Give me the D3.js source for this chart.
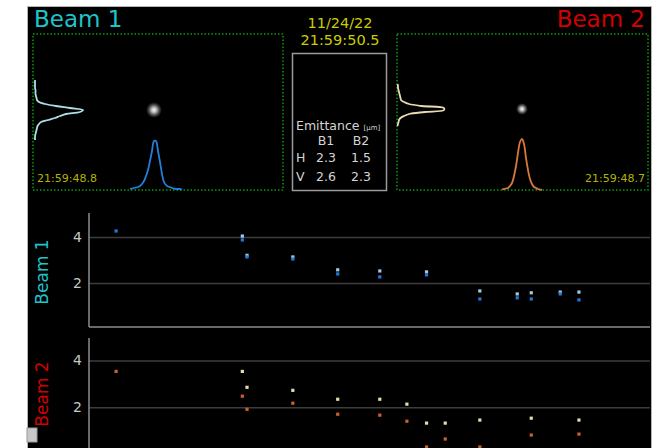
<!DOCTYPE html>
<html>
<head>
<meta charset="utf-8">
<script src="https://cdn.jsdelivr.net/npm/d3@7"></script>
<style>
  body { margin: 0; background: #fff; }
  text { font-family: "DejaVu Sans", sans-serif; }
</style>
</head>
<body>
<script>
var W = 656, H = 448;

// header texts
var beamNames = ['Beam 1', 'Beam 2'];
var dateText = '11/24/22';
var timeText = '21:59:50.5';
var camTimes = ['21:59:48.8', '21:59:48.7'];

// emittance table (um)
var emitCols = ['B1', 'B2'];
var emitRows = ['H', 'V'];
var emitVals = [[2.3, 1.5], [2.6, 2.3]];

// camera profiles, relative intensity (peak ~100)
var b1VProf = [2,2,2,2,2,3,3,3,4,5,6,10,22,44,72,98,92,64,52,42,28,14,10,7,6,5,4,3,2,2,2];
var b1HProf = [2,3,4,5,6,8,12,18,28,40,58,78,98,98,78,56,32,16,10,7,6,4,3,2,2,2,1];
var b2VProf = [1,2,2,3,4,5,6,7,8,14,24,50,94,94,56,24,14,7,4,3,2,1];
var b2HProf = [1,2,3,4,8,14,28,48,74,96,102,92,64,40,22,12,6,4,2,1,0];

// emittance history, minutes since 21:00
var b1Times = [2.9, 16.4, 16.9, 21.8, 26.6, 31.1, 36.1, 41.8, 45.8, 47.3, 50.4, 52.4];
var b1EmitH = [null, 4.04, 3.2, 3.13, 2.57, 2.52, 2.48, 1.65, 1.52, 1.57, 1.6, 1.6];
var b1EmitV = [4.26, 3.87, 3.13, 3.04, 2.39, 2.26, 2.35, 1.3, 1.35, 1.3, 1.52, 1.26];
var b2Times = [2.9, 16.4, 16.9, 21.8, 26.6, 31.1, 34.0, 36.1, 38.1, 41.8, 47.3, 52.4];
var b2EmitH = [null, 3.53, 2.85, 2.72, 2.34, 2.34, 2.13, 1.32, 1.32, 1.45, 1.53, 1.45];
var b2EmitV = [3.53, 2.47, 1.91, 2.17, 1.7, 1.66, 1.4, 0.3, 0.64, 0.3, 0.81, 0.85];
var yTicks = [2, 4];

var svg = d3.select('body').append('svg')
  .attr('width', W)
  .attr('height', H);

svg.append('rect')
  .attr('x', 27.5).attr('y', 6.5)
  .attr('width', 624).attr('height', 450)
  .attr('fill', '#000')
  .attr('stroke', '#b4b4b4');

var defs = svg.append('defs');
var grad = defs.append('radialGradient').attr('id', 'spot');
grad.append('stop').attr('offset', '0%').attr('stop-color', '#fff').attr('stop-opacity', 1);
grad.append('stop').attr('offset', '35%').attr('stop-color', '#ddd').attr('stop-opacity', 0.8);
grad.append('stop').attr('offset', '100%').attr('stop-color', '#888').attr('stop-opacity', 0);

// titles
svg.append('text').attr('x', 34).attr('y', 27)
  .attr('font-size', 23).attr('fill', '#1ec4c8').text(beamNames[0]);
svg.append('text').attr('x', 645).attr('y', 27).attr('text-anchor', 'end')
  .attr('font-size', 23).attr('fill', '#d20000').text(beamNames[1]);
svg.append('text').attr('x', 340).attr('y', 28).attr('text-anchor', 'middle')
  .attr('font-size', 14.5).attr('fill', '#cccc00').text(dateText);
svg.append('text').attr('x', 340).attr('y', 45).attr('text-anchor', 'middle')
  .attr('font-size', 14.5).attr('fill', '#cccc00').text(timeText);

// camera boxes
var boxes = [
  {x: 33, y: 34, w: 250, h: 156},
  {x: 397, y: 34, w: 251, h: 156}
];
boxes.forEach(function(b, i) {
  svg.append('rect')
    .attr('x', b.x).attr('y', b.y)
    .attr('width', b.w).attr('height', b.h)
    .attr('fill', 'none')
    .attr('stroke', '#0a9a0a')
    .attr('stroke-width', 1.5)
    .attr('stroke-dasharray', '1.5,2');
});

// beam spots
svg.append('circle').attr('cx', 154).attr('cy', 110).attr('r', 8).attr('fill', 'url(#spot)');
svg.append('circle').attr('cx', 522).attr('cy', 109).attr('r', 6).attr('fill', 'url(#spot)');

var amp = d3.scaleLinear().domain([0, 100]).range([0, 50]);

function vProfile(data, x0, y0, y1, color) {
  var ys = d3.scaleLinear().domain([0, data.length - 1]).range([y0, y1]);
  var line = d3.line()
    .x(function(d) { return x0 + amp(d); })
    .y(function(d, i) { return ys(i); })
    .curve(d3.curveCatmullRom);
  svg.append('path').datum(data)
    .attr('d', line)
    .attr('fill', 'none')
    .attr('stroke', color)
    .attr('stroke-width', 1.8);
}

function hProfile(data, x0, x1, yb, color) {
  var xs = d3.scaleLinear().domain([0, data.length - 1]).range([x0, x1]);
  var line = d3.line()
    .x(function(d, i) { return xs(i); })
    .y(function(d) { return yb - amp(d); })
    .curve(d3.curveCatmullRom);
  svg.append('path').datum(data)
    .attr('d', line)
    .attr('fill', 'none')
    .attr('stroke', color)
    .attr('stroke-width', 1.8);
}

vProfile(b1VProf, 34, 80, 140, '#ace0e6');
hProfile(b1HProf, 130, 182, 190, '#2080d8');
vProfile(b2VProf, 397, 84, 126, '#eadbb2');
hProfile(b2HProf, 502, 542, 190, '#d8783a');

svg.append('text').attr('x', 37).attr('y', 182)
  .attr('font-size', 11).attr('fill', '#b4b400').text(camTimes[0]);
svg.append('text').attr('x', 645).attr('y', 182).attr('text-anchor', 'end')
  .attr('font-size', 11).attr('fill', '#b4b400').text(camTimes[1]);

// emittance box
svg.append('rect')
  .attr('x', 292.5).attr('y', 53.5)
  .attr('width', 94).attr('height', 137)
  .attr('fill', 'none')
  .attr('stroke', '#9a9a9a')
  .attr('stroke-width', 1.5);

var tcol = '#d4d4d4';
var emit = svg.append('text').attr('x', 296).attr('y', 130).attr('fill', tcol).attr('font-size', 12.5);
emit.append('tspan').text('Emittance ');
emit.append('tspan').attr('font-size', 7).text('[\u03bcm]');

var colX = d3.scalePoint().domain(emitCols).range([326, 361]);
var rowY = d3.scalePoint().domain(emitRows).range([162, 181]);

svg.selectAll('.ecol').data(emitCols).enter().append('text')
  .attr('x', function(d) { return colX(d); })
  .attr('y', 145)
  .attr('text-anchor', 'middle')
  .attr('font-size', 12.5).attr('fill', tcol)
  .text(function(d) { return d; });

emitRows.forEach(function(r, ri) {
  svg.append('text').attr('x', 296).attr('y', rowY(r))
    .attr('font-size', 12.5).attr('fill', tcol).text(r);
  emitCols.forEach(function(c, ci) {
    svg.append('text').attr('x', colX(c)).attr('y', rowY(r))
      .attr('text-anchor', 'middle')
      .attr('font-size', 12.5).attr('fill', tcol)
      .text(emitVals[ri][ci].toFixed(1));
  });
});

// history plots
var x = d3.scaleLinear().domain([0, 60]).range([89, 650]);

var panels = [
  {name: beamNames[0], color: '#1ec4c8', yr: [327, 214], dom: [0.08, 5], top: 213, bottom: 327,
   t: b1Times, h: b1EmitH, v: b1EmitV, hc: '#a8c6de', vc: '#1c7ad8', ly: 272},
  {name: beamNames[1], color: '#d20000', yr: [454, 337], dom: [0, 5], top: 338, bottom: 460,
   t: b2Times, h: b2EmitH, v: b2EmitV, hc: '#e8d8ae', vc: '#c8622c', ly: 394}
];

panels.forEach(function(p) {
  var y = d3.scaleLinear().domain(p.dom).range(p.yr);
  var g = svg.append('g');

  var ax = g.append('g')
    .attr('transform', 'translate(89,0)')
    .call(d3.axisLeft(y).tickValues(yTicks).tickSize(-561).tickPadding(7).tickFormat(d3.format('d')));
  ax.select('.domain').remove();
  ax.selectAll('.tick line').attr('stroke', '#3c3c3c').attr('stroke-width', 1.5);
  ax.selectAll('.tick text')
    .attr('fill', '#c8c8c8')
    .attr('font-size', 14)
    .attr('font-family', '"DejaVu Sans", sans-serif');

  g.append('line')
    .attr('x1', 89).attr('x2', 89)
    .attr('y1', p.top).attr('y2', p.bottom)
    .attr('stroke', '#8c8c8c').attr('stroke-width', 1.5);
  if (p.bottom < 448) {
    g.append('line')
      .attr('x1', 89).attr('x2', 650)
      .attr('y1', p.bottom).attr('y2', p.bottom)
      .attr('stroke', '#8c8c8c').attr('stroke-width', 1.5);
  }

  g.append('text')
    .attr('transform', 'translate(48,' + p.ly + ') rotate(-90)')
    .attr('text-anchor', 'middle')
    .attr('font-size', 17)
    .attr('fill', p.color)
    .text(p.name);

  [[p.h, p.hc], [p.v, p.vc]].forEach(function(s) {
    var pts = p.t.map(function(t, i) { return {t: t, v: s[0][i]}; })
      .filter(function(d) { return d.v !== null; });
    g.selectAll(null).data(pts).enter().append('rect')
      .attr('x', function(d) { return x(d.t) - 1.6; })
      .attr('y', function(d) { return y(d.v) - 1.6; })
      .attr('width', 3.2).attr('height', 3.2)
      .attr('fill', s[1]);
  });
});

// little toolbar button bottom-left
svg.append('rect')
  .attr('x', 27).attr('y', 428)
  .attr('width', 10).attr('height', 14)
  .attr('fill', '#c8c8c8')
  .attr('stroke', '#999');
</script>
</body>
</html>
